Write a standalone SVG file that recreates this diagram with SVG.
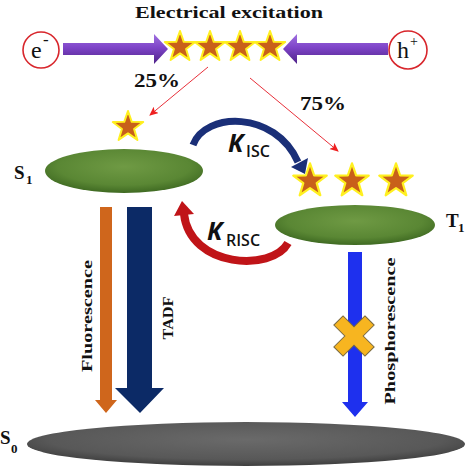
<svg xmlns="http://www.w3.org/2000/svg" width="474" height="470" viewBox="0 0 474 470">
<defs>
<style>
.serif{font-family:"Times New Roman","Liberation Serif",Tinos,serif;fill:#111}
.b{font-weight:bold}
.sans{font-family:"Open Sans","Liberation Sans",Arial,sans-serif;fill:#111}
.thin{stroke:#e8303a;stroke-width:1;fill:none}
.star{fill:#c8601a;stroke:#fff020;stroke-width:2;stroke-linejoin:round}
.circ{fill:#fff;stroke:#d8262c;stroke-width:1.6}
</style>
<radialGradient id="green" cx="0.5" cy="0.4" r="0.6">
<stop offset="0" stop-color="#6f9a44"/>
<stop offset="0.7" stop-color="#5a8734"/>
<stop offset="1" stop-color="#3f6a22"/>
</radialGradient>
<radialGradient id="gray" cx="0.5" cy="0.4" r="0.6">
<stop offset="0" stop-color="#6a6a6a"/>
<stop offset="0.75" stop-color="#585858"/>
<stop offset="1" stop-color="#3e3e3e"/>
</radialGradient>
<linearGradient id="purple" x1="0" y1="0" x2="0" y2="1">
<stop offset="0" stop-color="#a070e0"/>
<stop offset="0.45" stop-color="#7e44c8"/>
<stop offset="1" stop-color="#4e2288"/>
</linearGradient>
<polygon id="star" points="0,-16 3.76,-5.18 15.22,-4.94 6.09,1.98 9.40,12.94 0,6.4 -9.40,12.94 -6.09,1.98 -15.22,-4.94 -3.76,-5.18"/>
<marker id="ah" markerWidth="10" markerHeight="10" refX="8" refY="4" orient="auto" markerUnits="userSpaceOnUse">
<path d="M0,0 L9,4 L0,8 L2,4 Z" fill="#ee2020"/>
</marker>
</defs>
<rect width="474" height="470" fill="#fff"/>

<text class="serif b" x="229" y="18" font-size="16" text-anchor="middle" textLength="188" lengthAdjust="spacingAndGlyphs">Electrical excitation</text>

<g id="electron">
<circle class="circ" cx="41" cy="50" r="18"/>
<text class="serif" x="31" y="58" font-size="24">e</text>
<text class="serif" x="43" y="45" font-size="17">-</text>
</g>
<g id="hole">
<circle class="circ" cx="408" cy="50" r="19"/>
<text class="serif" x="397" y="58" font-size="24">h</text>
<text class="serif" x="410" y="46" font-size="14">+</text>
</g>

<g id="connectors">
<polygon points="63,43 154,43 154,34 168,49 154,64 154,55 63,55" fill="url(#purple)"/>
<polygon points="388,43 297,43 297,34 283,49 297,64 297,55 388,55" fill="url(#purple)"/>
<line class="thin" x1="208" y1="67" x2="150" y2="115" marker-end="url(#ah)"/>
<line class="thin" x1="250" y1="78" x2="338" y2="151" marker-end="url(#ah)"/>
<path d="M193,145 C205,112 275,110 298,162" fill="none" stroke="#1a2f78" stroke-width="7"/>
<polygon points="305,174 291,167 308,158" fill="#1a2f78"/>
<path d="M288,243 C272,272 190,268 184,214" fill="none" stroke="#c01418" stroke-width="8"/>
<polygon points="182,201 174,216 194,214" fill="#c01418"/>
<polygon points="100,207 112,207 112,400 117,400 106,413 95,400 100,400" fill="#cf661c"/>
<polygon points="127,207 152,207 152,388 164,388 140,413 115,388 127,388" fill="#0c2a66"/>
<polygon points="348,252 362,252 362,402 368,402 355,417 342,402 348,402" fill="#1e30ee"/>
</g>

<g id="excitons">
<use href="#star" class="star" x="180" y="47"/>
<use href="#star" class="star" x="210" y="47"/>
<use href="#star" class="star" x="240" y="47"/>
<use href="#star" class="star" x="270" y="47"/>
</g>
<text class="serif b" x="134" y="87" font-size="18" textLength="46" lengthAdjust="spacingAndGlyphs">25%</text>
<text class="serif b" x="300" y="110" font-size="18" textLength="46" lengthAdjust="spacingAndGlyphs">75%</text>

<g id="S1">
<use href="#star" class="star" x="128" y="127"/>
<ellipse cx="124" cy="171" rx="79" ry="22" fill="url(#green)"/>
<text class="serif b" x="14" y="179" font-size="19">S</text>
<text class="serif b" x="26" y="184" font-size="13">1</text>
</g>

<g id="T1">
<use href="#star" class="star" transform="translate(310,181) scale(1.1)"/>
<use href="#star" class="star" transform="translate(352,181) scale(1.1)"/>
<use href="#star" class="star" transform="translate(396,181) scale(1.1)"/>
<ellipse cx="355" cy="225" rx="80" ry="20" fill="url(#green)"/>
<text class="serif b" x="446" y="227" font-size="19">T</text>
<text class="serif b" x="458" y="232" font-size="13">1</text>
</g>

<g id="S0">
<ellipse cx="246" cy="444" rx="219" ry="22" fill="url(#gray)"/>
<text class="serif b" x="0" y="444" font-size="19">S</text>
<text class="serif b" x="11" y="453" font-size="13">0</text>
</g>

<g id="labels">
<text class="sans" x="228" y="152" font-size="25" font-weight="bold" font-style="italic">K</text>
<text class="sans" x="246" y="157" font-size="16" font-weight="600">ISC</text>
<text class="sans" x="207" y="240" font-size="25" font-weight="bold" font-style="italic">K</text>
<text class="sans" x="226" y="246" font-size="16" font-weight="600">RISC</text>
<text class="serif b" font-size="15" transform="translate(92,316) rotate(-90)" text-anchor="middle" textLength="112" lengthAdjust="spacingAndGlyphs">Fluorescence</text>
<text class="serif b" font-size="15" transform="translate(173,318) rotate(-90)" text-anchor="middle" textLength="43" lengthAdjust="spacingAndGlyphs">TADF</text>
<text class="serif b" font-size="15" transform="translate(395,331) rotate(-90)" text-anchor="middle" textLength="147" lengthAdjust="spacingAndGlyphs">Phosphorescence</text>
</g>

<g id="blocked">
<polygon points="-6.5,-22 6.5,-22 6.5,-6.5 22,-6.5 22,6.5 6.5,6.5 6.5,22 -6.5,22 -6.5,6.5 -22,6.5 -22,-6.5 -6.5,-6.5" fill="#f7b520" stroke="#7a6a40" stroke-width="1" transform="translate(354,336) rotate(45)"/>
</g>
</svg>
